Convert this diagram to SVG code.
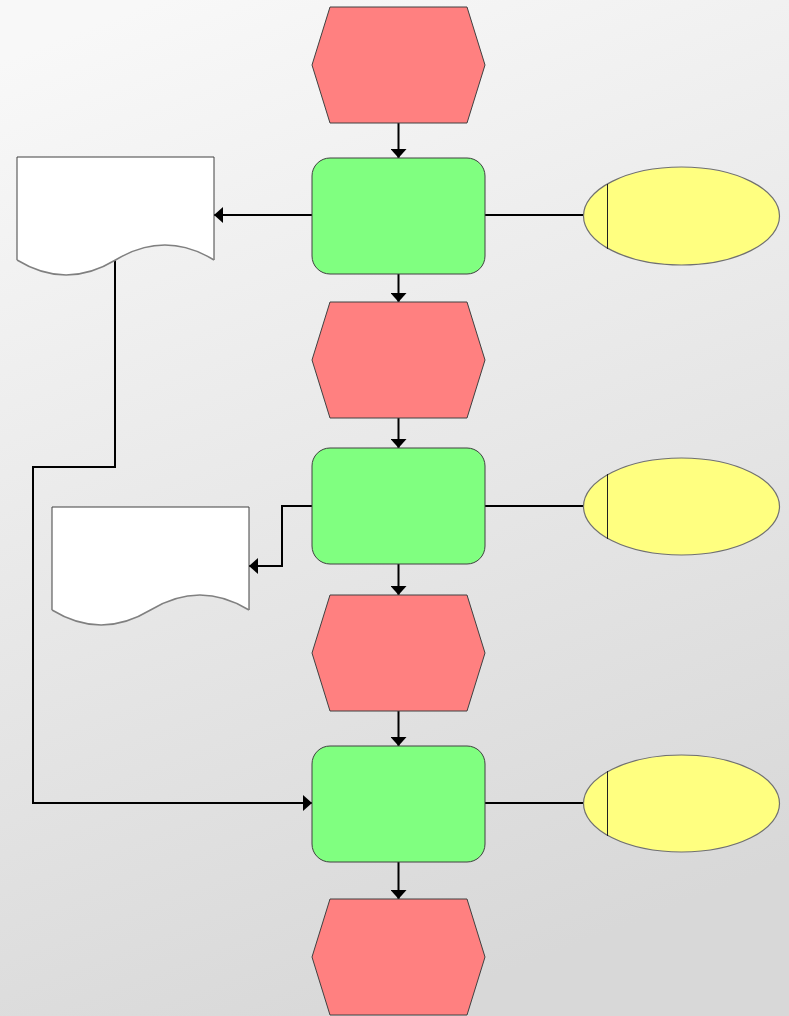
<svg xmlns="http://www.w3.org/2000/svg" width="789" height="1016" viewBox="0 0 789 1016">
  <defs>
    <linearGradient id="bg" x1="0.2" y1="0" x2="0.5" y2="1">
      <stop offset="0" stop-color="#f8f8f8"/>
      <stop offset="1" stop-color="#d8d8d8"/>
    </linearGradient>
    <marker id="arrow" markerUnits="userSpaceOnUse" markerWidth="10" markerHeight="16" refX="9" refY="8" orient="auto">
      <path d="M0,0 L9,8 L0,16 Z" fill="#000"/>
    </marker>
    <polygon id="evt" points="18,0 155,0 173,58 155,116 18,116 0,58"/>
    <rect id="fn" x="0" y="0" width="173" height="116" rx="18" ry="18"/>
  </defs>
  <style>
    .event { fill: #ff8080; stroke: #404040; stroke-width: 1; }
    .func { fill: #80ff80; stroke: #404040; stroke-width: 1; }
    .doc { fill: #ffffff; stroke: #404040; stroke-width: 1; }
    .doc .wave { fill: none; stroke: #808080; stroke-width: 1.5; }
    .org { fill: #ffff80; stroke: #707070; stroke-width: 1.2; }
    .org-bar { stroke: #202020; stroke-width: 1; }
    .conn { fill: none; stroke: #000; stroke-width: 2; }
    .conn .arr { marker-end: url(#arrow); }
  </style>

  <rect x="0" y="0" width="789" height="1016" fill="url(#bg)"/>

  <!-- connectors -->
  <g id="connectors" class="conn">
    <path class="arr" d="M398.5,123 V158"/>
    <path class="arr" d="M398.5,274 V302"/>
    <path class="arr" d="M398.5,418 V448"/>
    <path class="arr" d="M398.5,564 V595"/>
    <path class="arr" d="M398.5,711 V746"/>
    <path class="arr" d="M398.5,862 V899"/>
    <path class="arr" d="M312,215 H214"/>
    <path class="arr" d="M312,506 H282 V566 H249"/>
    <path class="arr" d="M115,260 V467 H33 V803 H312"/>
    <path d="M485,215 H583"/>
    <path d="M485,506 H583"/>
    <path d="M485,803 H583"/>
  </g>

  <!-- events -->
  <g id="event1" class="event"><use href="#evt" x="312" y="7"/></g>
  <g id="event2" class="event"><use href="#evt" x="312" y="302"/></g>
  <g id="event3" class="event"><use href="#evt" x="312" y="595"/></g>
  <g id="event4" class="event"><use href="#evt" x="312" y="899"/></g>

  <!-- functions -->
  <g id="function1" class="func"><use href="#fn" x="312" y="158"/></g>
  <g id="function2" class="func"><use href="#fn" x="312" y="448"/></g>
  <g id="function3" class="func"><use href="#fn" x="312" y="746"/></g>

  <!-- documents -->
  <g id="document1" class="doc">
    <path d="M17,260 V157 H214 V260 Q165.5,230 115.5,260 Q66,290 17,260 Z" stroke="none"/>
    <path d="M17,260 V157 H214 V260" fill="none"/>
    <path class="wave" d="M17,260 Q66,290 115.5,260 T214,260"/>
  </g>
  <g id="document2" class="doc">
    <path d="M52,610 V507 H249 V610 Q200.5,580 150.5,610 Q101,640 52,610 Z" stroke="none"/>
    <path d="M52,610 V507 H249 V610" fill="none"/>
    <path class="wave" d="M52,610 Q101,640 150.5,610 T249,610"/>
  </g>

  <!-- organisational units -->
  <g id="org1">
    <ellipse class="org" cx="681.5" cy="216" rx="98" ry="49"/>
    <line class="org-bar" x1="607.5" y1="184" x2="607.5" y2="249"/>
  </g>
  <g id="org2">
    <ellipse class="org" cx="681.5" cy="506.5" rx="98" ry="48.5"/>
    <line class="org-bar" x1="607.5" y1="474" x2="607.5" y2="539"/>
  </g>
  <g id="org3">
    <ellipse class="org" cx="681.5" cy="803.5" rx="98" ry="48.5"/>
    <line class="org-bar" x1="607.5" y1="771" x2="607.5" y2="836"/>
  </g>
</svg>
